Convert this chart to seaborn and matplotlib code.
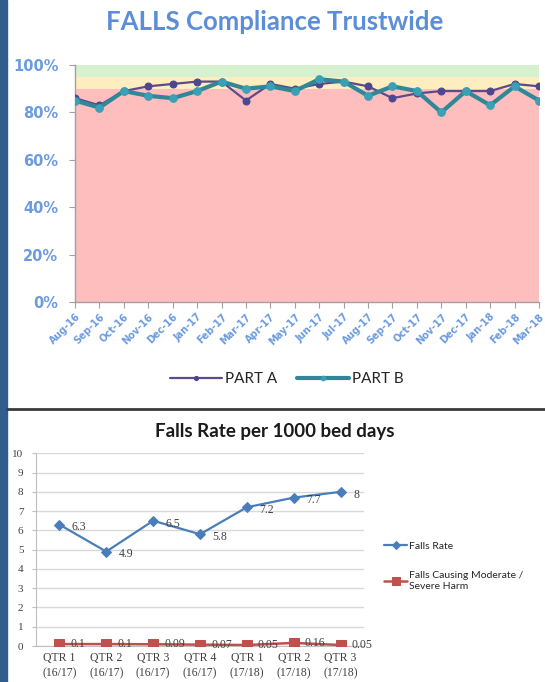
import numpy as np
import pandas as pd
import seaborn as sns
import matplotlib.pyplot as plt
from matplotlib.lines import Line2D
from matplotlib.patches import Rectangle


# Dados do gráfico de conformidade (mensal)
months = ['Aug-16', 'Sep-16', 'Oct-16', 'Nov-16', 'Dec-16', 'Jan-17', 'Feb-17',
          'Mar-17', 'Apr-17', 'May-17', 'Jun-17', 'Jul-17', 'Aug-17', 'Sep-17',
          'Oct-17', 'Nov-17', 'Dec-17', 'Jan-18', 'Feb-18', 'Mar-18']
part_a = [86, 83, 89, 91, 92, 93, 93, 85, 92, 90, 92, 93, 91, 86, 88, 89, 89, 89, 92, 91]
part_b = [85, 82, 89, 87, 86, 89, 93, 90, 91, 89, 94, 93, 87, 91, 89, 80, 89, 83, 91, 85]
y_ticks_top = [0, 20, 40, 60, 80, 100]

# Dados do gráfico de taxa de quedas (trimestral)
quarters = ['QTR 1\n(16/17)', 'QTR 2\n(16/17)', 'QTR 3\n(16/17)', 'QTR 4\n(16/17)',
            'QTR 1\n(17/18)', 'QTR 2\n(17/18)', 'QTR 3\n(17/18)']
falls_rate = [6.3, 4.9, 6.5, 5.8, 7.2, 7.7, 8]
falls_harm = [0.1, 0.1, 0.09, 0.07, 0.05, 0.16, 0.05]
falls_rate_txt = ['6.3', '4.9', '6.5', '5.8', '7.2', '7.7', '8']
falls_harm_txt = ['0.1', '0.1', '0.09', '0.07', '0.05', '0.16', '0.05']


sns.set_style('white')
plt.rcParams['font.family'] = ['Lato', 'DejaVu Sans']

fig = plt.figure(figsize=(5.45, 6.82), dpi=100)

# Faixa azul lateral e linha separadora
fig.add_artist(Rectangle((0, 0), 7 / 545, 1, transform=fig.transFigure,
                         color='#2F5D8E', zorder=0))
fig.add_artist(Line2D([7 / 545, 1], [1 - 409 / 682] * 2, transform=fig.transFigure,
                      color='#3A3A3A', lw=2))


# ---------------- Gráfico superior ----------------
ax1 = fig.add_axes([75 / 545, 1 - 302 / 682, 464 / 545, 237 / 682])

df_top = pd.DataFrame({
    'x': list(range(len(months))) * 2,
    'value': part_a + part_b,
    'serie': ['PART A'] * len(months) + ['PART B'] * len(months),
})

ax1.axhspan(0, 90, color='#FFBEBE', lw=0, zorder=0)
ax1.axhspan(90, 95, color='#FEEDBE', lw=0, zorder=0)
ax1.axhspan(95, 100, color='#D7F1CF', lw=0, zorder=0)

sns.lineplot(data=df_top[df_top['serie'] == 'PART A'], x='x', y='value',
             color='#5E4A8B', lw=1.6, marker='o', markersize=5,
             markerfacecolor='#4E4690', markeredgecolor='#4E4690',
             label='PART A', ax=ax1, zorder=3)
sns.lineplot(data=df_top[df_top['serie'] == 'PART B'], x='x', y='value',
             color='#2F8797', lw=3, marker='o', markersize=5.5,
             markerfacecolor='#3AA0B5', markeredgecolor='#3AA0B5',
             label='PART B', ax=ax1, zorder=4)

ax1.set_xlim(0, len(months) - 1)
ax1.set_ylim(0, 100)
ax1.set_xticks(range(len(months)))
ax1.set_xticklabels(months, rotation=45, ha='right', rotation_mode='anchor',
                    fontsize=7, fontweight='bold', color='#6C9BE0',
                    family='DejaVu Sans')
ax1.set_yticks(y_ticks_top)
ax1.set_yticklabels([f'{v}%' for v in y_ticks_top], fontsize=10.5,
                    fontweight='bold', color='#6C9BE0', family='DejaVu Sans')
ax1.set_xlabel('')
ax1.set_ylabel('')
for s in ['top', 'right']:
    ax1.spines[s].set_visible(False)
for s in ['left', 'bottom']:
    ax1.spines[s].set_color('#A0A0A0')
    ax1.spines[s].set_linewidth(1)
ax1.tick_params(axis='x', length=4, color='#A0A0A0', direction='out',
                bottom=True, pad=3)
ax1.tick_params(axis='y', length=4, color='#A0A0A0', direction='out',
                left=True, pad=8)

ax1.legend_.remove()
handles, labels = ax1.get_legend_handles_labels()
fig.legend(handles, labels, loc='center', bbox_to_anchor=(287 / 545, 1 - 379 / 682),
           ncol=2, frameon=False, fontsize=11, handlelength=3.4,
           columnspacing=1.3, handletextpad=0.2, markerscale=0.6)

fig.text(275 / 545, 1 - 22 / 682, 'FALLS Compliance Trustwide', ha='center',
         va='center', fontsize=18.5, fontweight='bold', color='#5B8DD8')


# ---------------- Gráfico inferior ----------------
ax2 = fig.add_axes([36 / 545, 1 - 646 / 682, 328 / 545, 192.7 / 682])

df_q = pd.DataFrame({'q': range(len(quarters)), 'rate': falls_rate, 'harm': falls_harm})

sns.lineplot(data=df_q, x='q', y='rate', color='#4A7EBB', lw=1.6, marker='D',
             markersize=5.5, markeredgecolor='#4A7EBB', label='Falls Rate',
             ax=ax2, zorder=3)
sns.lineplot(data=df_q, x='q', y='harm', color='#C0504D', lw=1.8, marker='s',
             markersize=6.5, markeredgecolor='#C0504D',
             label='Falls Causing Moderate /\nSevere Harm', ax=ax2, zorder=3)

for i, (v, t) in enumerate(zip(falls_rate, falls_rate_txt)):
    ax2.annotate(t, (i, v), xytext=(9, -2), textcoords='offset points',
                 ha='left', va='center', fontsize=8.5, color='#404040',
                 family='Liberation Serif')
for i, (v, t) in enumerate(zip(falls_harm, falls_harm_txt)):
    ax2.annotate(t, (i, v), xytext=(8, 0), textcoords='offset points',
                 ha='left', va='center', fontsize=8.5, color='#404040',
                 family='Liberation Serif')

ax2.set_xlim(-0.5, len(quarters) - 0.5)
ax2.set_ylim(0, 10)
ax2.set_yticks(range(0, 11))
ax2.set_yticklabels([str(v) for v in range(0, 11)], fontsize=8, color='#404040',
                    family='Liberation Serif')
ax2.set_xticks(range(len(quarters)))
ax2.set_xticklabels(quarters, fontsize=8.5, color='#404040', family='Liberation Serif',
                    linespacing=1.4)
ax2.set_xlabel('')
ax2.set_ylabel('')
ax2.grid(axis='y', color='#D9D9D9', lw=1)
ax2.set_axisbelow(True)
for s in ['top', 'right']:
    ax2.spines[s].set_visible(False)
for s in ['left', 'bottom']:
    ax2.spines[s].set_color('#BFBFBF')
ax2.tick_params(axis='y', length=3, color='#BFBFBF', left=True, pad=6)
ax2.tick_params(axis='x', length=0, pad=4)

ax2.legend_.remove()
h2, l2 = ax2.get_legend_handles_labels()
fig.legend(h2, l2, loc='upper left', bbox_to_anchor=(375 / 545, 1 - 532 / 682),
           frameon=False, fontsize=7.5, handlelength=2.2, handletextpad=0.2,
           labelspacing=2.0, markerscale=0.8)

fig.text(275 / 545, 1 - 431 / 682, 'Falls Rate per 1000 bed days', ha='center',
         va='center', fontsize=13.5, fontweight='bold', color='#1A1A1A')

fig.savefig('out.png', dpi=100)
